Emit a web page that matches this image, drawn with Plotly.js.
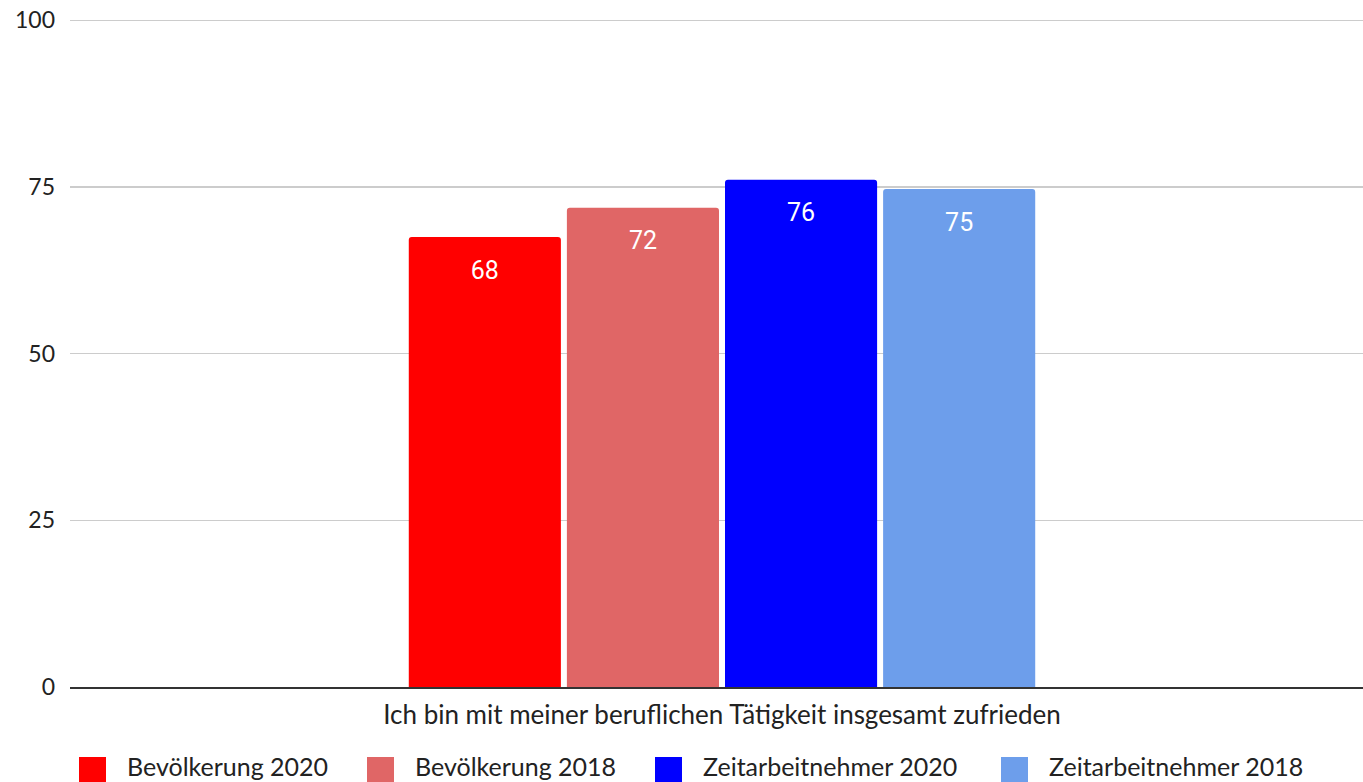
<!DOCTYPE html>
<html>
<head>
<meta charset="utf-8">
<script src="https://cdn.plot.ly/plotly-3.0.1.min.js"></script>
<style>
html, body { margin: 0; padding: 0; overflow: hidden; background: #fff; }
#chart { width: 1374px; height: 782px; }
</style>
</head>
<body>
<div id="chart"></div>
<script>
const categories = ["Ich bin mit meiner beruflichen Tätigkeit insgesamt zufrieden"];
const seriesNames = ["Bevölkerung 2020", "Bevölkerung 2018", "Zeitarbeitnehmer 2020", "Zeitarbeitnehmer 2018"];
const bevoelkerung2020 = [67.5];
const bevoelkerung2018 = [71.9];
const zeitarbeitnehmer2020 = [76.1];
const zeitarbeitnehmer2018 = [74.7];
const seriesValues = [bevoelkerung2020, bevoelkerung2018, zeitarbeitnehmer2020, zeitarbeitnehmer2018];
const seriesColors = ["#ff0000", "#e06666", "#0000ff", "#6d9eeb"];
const yTicks = [0, 25, 50, 75, 100];

const W = 1374, L = 70, R = 0;
const plotW = W - L - R;

const traces = seriesNames.map((name, i) => ({
  type: "bar",
  name: name,
  x: categories,
  y: seriesValues[i],
  marker: { color: seriesColors[i], cornerradius: 3, line: { width: 0 } },
  texttemplate: "<span style='font-size:6px'>&nbsp;</span><br>%{y:.0f}",
  textposition: "inside",
  insidetextanchor: "end",
  constraintext: "none",
  textfont: { family: "Roboto", size: 25, color: "#ffffff" },
  hoverinfo: "none",
  showlegend: false
}));

// custom legend (large square swatches like the reference)
const swatchLeft = [79, 367, 655, 1001];
const textLeft = [125, 413, 701, 1047];
const shapes = seriesNames.map((n, i) => ({
  type: "rect", xref: "paper", yref: "paper",
  xsizemode: "pixel", ysizemode: "pixel",
  xanchor: (swatchLeft[i] - L) / plotW, yanchor: 0,
  x0: 0, x1: 27, y0: -98, y1: -70,
  fillcolor: seriesColors[i], line: { width: 0 }
}));
const annotations = seriesNames.map((n, i) => ({
  text: n, xref: "paper", yref: "paper",
  x: (textLeft[i] - L) / plotW, y: 0,
  xanchor: "left", yanchor: "middle", yshift: -79,
  showarrow: false,
  font: { family: "Lato", size: 25, color: "#222222" }
}));

const layout = {
  width: W, height: 782,
  margin: { l: L, r: R, t: 19, b: 95, pad: 0 },
  paper_bgcolor: "#ffffff", plot_bgcolor: "#ffffff",
  barmode: "group",
  bargap: 0.515,
  bargroupgap: 0.038,
  showlegend: false,
  font: { family: "Lato", size: 23, color: "#222222" },
  xaxis: {
    type: "category",
    showgrid: false, zeroline: false,
    showline: true, linecolor: "#333333", linewidth: 1.5,
    ticks: "", tickfont: { family: "Lato", size: 26, color: "#222222" },
    ticklabelstandoff: 4
  },
  yaxis: {
    range: [0, 100.2],
    tickvals: yTicks,
    ticktext: yTicks.map(String),
    showgrid: true, gridcolor: "#cccccc", gridwidth: 1.5,
    zeroline: false, showline: false, ticks: "",
    tickfont: { family: "Lato", size: 23, color: "#222222" },
    ticklabelstandoff: 14
  },
  shapes: shapes,
  annotations: annotations
};

Plotly.newPlot("chart", traces, layout, { displayModeBar: false, staticPlot: true });
</script>
</body>
</html>
